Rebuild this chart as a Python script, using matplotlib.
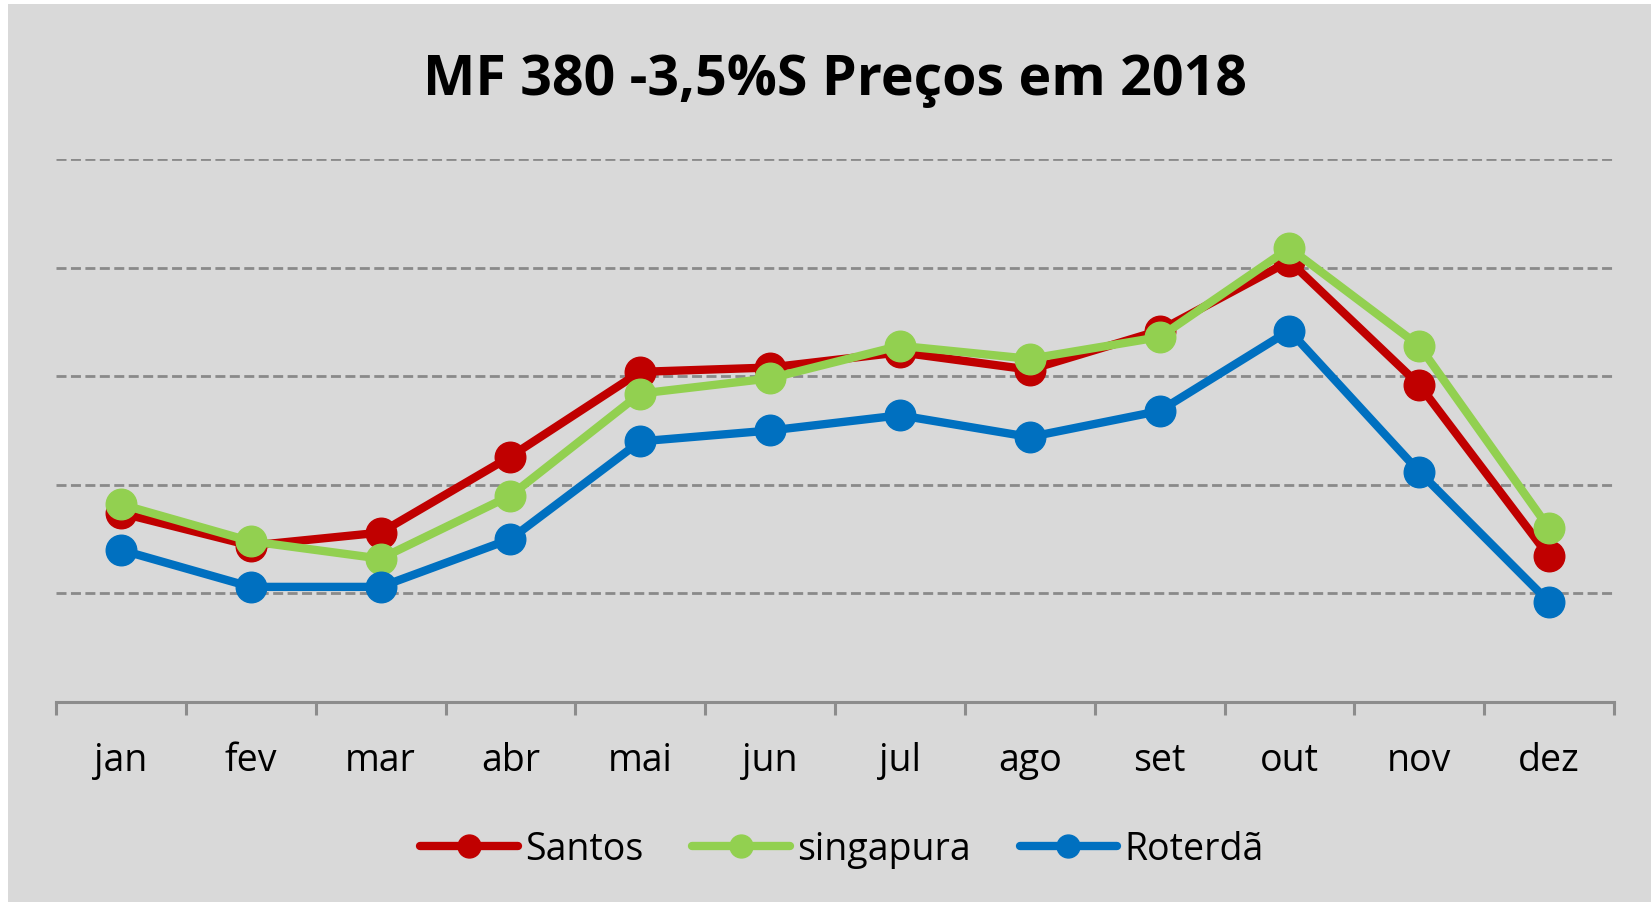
import matplotlib
matplotlib.use("Agg")
import matplotlib.pyplot as plt
from matplotlib.patches import Rectangle
import numpy as np

months = ["jan", "fev", "mar", "abr", "mai", "jun", "jul", "ago", "set", "out", "nov", "dez"]
santos = [387, 372, 378, 413, 452, 454, 461, 453, 471, 503, 446, 367]
singapura = [391, 374, 366, 395, 442, 449, 464, 458, 468, 509, 464, 380]
roterda = [370, 353, 353, 375, 420, 425, 432, 422, 434, 471, 406, 346]
series_names = ["Santos", "singapura", "Roterdã"]
y_grid = [350, 400, 450, 500, 550]
title = "MF 380 -3,5%S Preços em 2018"

W, H = 1651, 903
fig = plt.figure(figsize=(W / 100, H / 100), dpi=100, facecolor="white")
fig.patches.append(Rectangle((8 / W, 0), 1 - 8 / W, 1 - 5 / H, transform=fig.transFigure,
                             facecolor="#D9D9D9", edgecolor="none", zorder=-10))

ax = fig.add_axes([56 / W, 1 - 703 / H, (1614 - 56) / W, (703 - 160) / H])
ax.set_facecolor("none")
x = np.arange(len(months))
colors = ["#C00000", "#92D050", "#0070C0"]
for vals, name, c in zip([santos, singapura, roterda], series_names, colors):
    ax.plot(x, vals, color=c, lw=6, marker="o", markersize=22, label=name,
            solid_capstyle="round", clip_on=False, zorder=3)

ax.set_xlim(-0.5, len(months) - 0.5)
ax.set_ylim(300, 550)
ax.set_yticks(y_grid)
ax.yaxis.grid(True, color="#8A8A8A", lw=2.0, linestyle=(0, (3.6, 1.6)))
ax.set_axisbelow(True)
ax.tick_params(axis="y", left=False, labelleft=False)
for s in ["left", "right", "top"]:
    ax.spines[s].set_visible(False)
ax.spines["bottom"].set_color("#8C8C8C")
ax.spines["bottom"].set_linewidth(2.2)

ax.set_xticks(x)
ax.set_xticklabels(months, fontsize=27, family="Open Sans")
ax.tick_params(axis="x", which="major", length=0, pad=28)
ax.set_xticks(np.arange(-0.5, len(months), 1.0), minor=True)
ax.tick_params(axis="x", which="minor", length=9, width=2.2, color="#8C8C8C", direction="out")

fig.text(835 / W, 1 - 80 / H, title, ha="center", va="center", fontsize=40,
         fontweight="bold", family="Open Sans")

leg = fig.legend(loc="center", bbox_to_anchor=(842 / W, 1 - 850 / H), ncol=3, frameon=False,
                 prop={"family": "Open Sans", "size": 27}, handlelength=2.6,
                 handletextpad=0.2, columnspacing=1.3, markerscale=0.75)

fig.savefig("out.png", dpi=100, facecolor="white")
